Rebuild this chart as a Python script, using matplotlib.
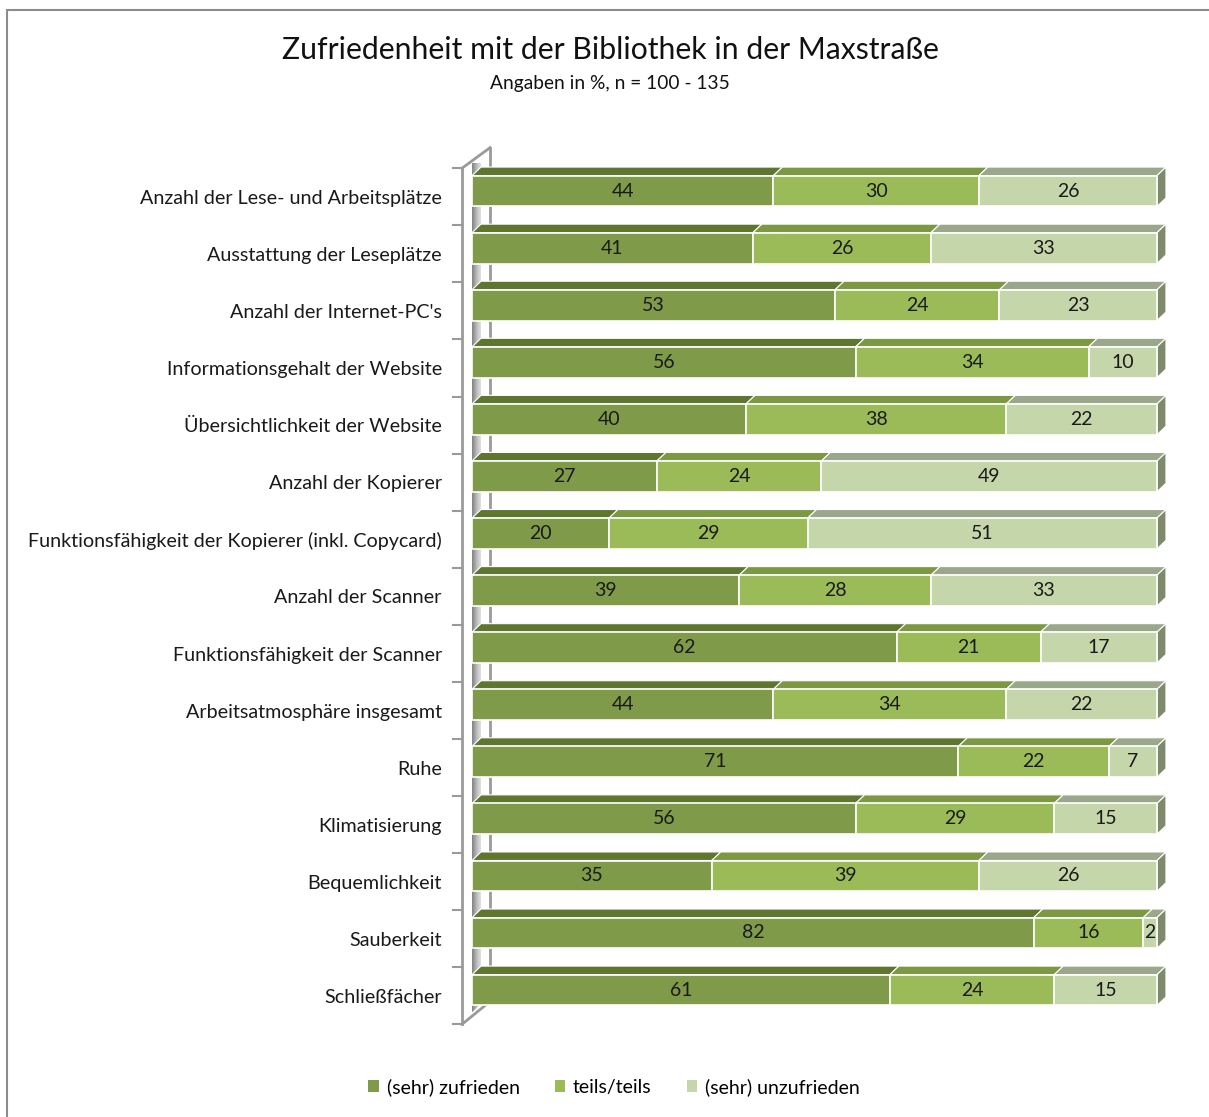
import numpy as np
import matplotlib
matplotlib.use("Agg")
from matplotlib import pyplot as plt
from matplotlib.patches import Polygon, Patch, Rectangle

plt.rcParams["font.family"] = ["Lato", "DejaVu Sans"]

categories = [
    "Anzahl der Lese- und Arbeitsplätze",
    "Ausstattung der Leseplätze",
    "Anzahl der Internet-PC's",
    "Informationsgehalt der Website",
    "Übersichtlichkeit der Website",
    "Anzahl der Kopierer",
    "Funktionsfähigkeit der Kopierer (inkl. Copycard)",
    "Anzahl der Scanner",
    "Funktionsfähigkeit der Scanner",
    "Arbeitsatmosphäre insgesamt",
    "Ruhe",
    "Klimatisierung",
    "Bequemlichkeit",
    "Sauberkeit",
    "Schließfächer",
]
zufrieden = [44, 41, 53, 56, 40, 27, 20, 39, 62, 44, 71, 56, 35, 82, 61]
teils = [30, 26, 24, 34, 38, 24, 29, 28, 21, 34, 22, 29, 39, 16, 24]
unzufrieden = [26, 33, 23, 10, 22, 49, 51, 33, 17, 22, 7, 15, 26, 2, 15]
series_names = ["(sehr) zufrieden", "teils/teils", "(sehr) unzufrieden"]

front_cols = ["#7F9A48", "#9BBB59", "#C6D6AB"]
top_cols = ["#5F7631", "#7D9843", "#9AA78A"]
side_col = "#7E8A6C"
wall_col = "#9A9A9A"

W, H = 1209, 1117
fig = plt.figure(figsize=(W / 100, H / 100), dpi=100)

# frame around the chart
fig.add_artist(Rectangle((7 / W, -0.01), 1.02, 1 - 10 / H + 0.01, transform=fig.transFigure,
                         fill=False, edgecolor="#8C8C8C", lw=1.5))

# axes: x in %, y in category units
x0_px, x1_px = 472, 1157
ytop_px, ybot_px = 162.5, 1018.6
ax = fig.add_axes([x0_px / W, 1 - ybot_px / H, (x1_px - x0_px) / W, (ybot_px - ytop_px) / H])
ax.set_xlim(0, 100)
ax.set_ylim(len(categories) - 0.5, -0.5)
ax.axis("off")

n = len(categories)
bh = 0.27            # half bar height
dx, dy = 1.31, 0.15  # 3d depth offset
xw_front, xw_back = -1.46, 2.63

# wall / axis
ax.plot([xw_front, xw_front], [-0.40, n - 0.40], color=wall_col, lw=2, clip_on=False, zorder=1)
ax.plot([xw_front, xw_back], [-0.40, -0.76], color=wall_col, lw=2, clip_on=False, zorder=1)
ax.plot([xw_back, xw_back], [-0.76, n - 0.80], color=wall_col, lw=2, clip_on=False, zorder=0)
ax.plot([xw_front, xw_back], [n - 0.40, n - 0.80], color=wall_col, lw=2, clip_on=False, zorder=1)
for k in range(n + 1):
    ax.plot([-2.77, xw_front], [k - 0.40, k - 0.40], color=wall_col, lw=1.5, clip_on=False)

# shading of the side wall visible between bars
grad = np.linspace(0, 1, 64).reshape(1, -1)
for k in range(-1, n):
    ya = k + bh if k >= 0 else -0.68
    yb = k + 1 - bh if k < n - 1 else k + bh + 0.12
    poly = Polygon([(0, ya), (dx, ya - dy), (dx, yb - dy), (0, yb)], closed=True,
                   facecolor="none", edgecolor="none", clip_on=False)
    ax.add_patch(poly)
    im = ax.imshow(grad, cmap="Greys_r", vmin=-1.2, vmax=1.6, aspect="auto",
                   extent=(0, dx, yb, ya - dy), zorder=1, interpolation="bilinear")
    im.set_clip_path(poly)
ax.set_xlim(0, 100)
ax.set_ylim(len(categories) - 0.5, -0.5)

data = np.array([zufrieden, teils, unzufrieden])
for i in range(n):
    left = 0
    yt, yb = i - bh, i + bh
    for s in range(3):
        v = data[s, i]
        right = left + v
        ax.add_patch(Polygon([(left, yt), (right, yt), (right + dx, yt - dy), (left + dx, yt - dy)],
                             closed=True, facecolor=top_cols[s], edgecolor="white", lw=0.8,
                             clip_on=False, zorder=3))
        ax.add_patch(Rectangle((left, yt), v, 2 * bh, facecolor=front_cols[s], edgecolor="white",
                               lw=1.2, clip_on=False, zorder=4))
        ax.text(left + v / 2, i, str(v), ha="center", va="center", fontsize=14, color="#1A1A1A",
                zorder=5)
        left = right
    ax.add_patch(Polygon([(left, yt), (left + dx, yt - dy), (left + dx, yb - dy), (left, yb)],
                         closed=True, facecolor=side_col, edgecolor="white", lw=0.8,
                         clip_on=False, zorder=3))
    ax.text(-4.4, i + 0.13, categories[i], ha="right", va="center", fontsize=14.2, color="#1A1A1A",
            clip_on=False)

fig.text(610 / W, 1 - 50 / H, "Zufriedenheit mit der Bibliothek in der Maxstraße",
         ha="center", va="center", fontsize=21.7, color="#111111")
fig.text(610 / W, 1 - 83 / H, "Angaben in %, n = 100 - 135", ha="center", va="center",
         fontsize=13.8, color="#111111")

handles = [Patch(facecolor=c, edgecolor="none") for c in front_cols]
fig.legend(handles, series_names, loc="center", bbox_to_anchor=(614 / W, 1 - 1087 / H), ncol=3,
           frameon=False, fontsize=14, handlelength=0.55, handleheight=0.55, handletextpad=0.4,
           columnspacing=1.8)

fig.savefig("out.png", dpi=100)
